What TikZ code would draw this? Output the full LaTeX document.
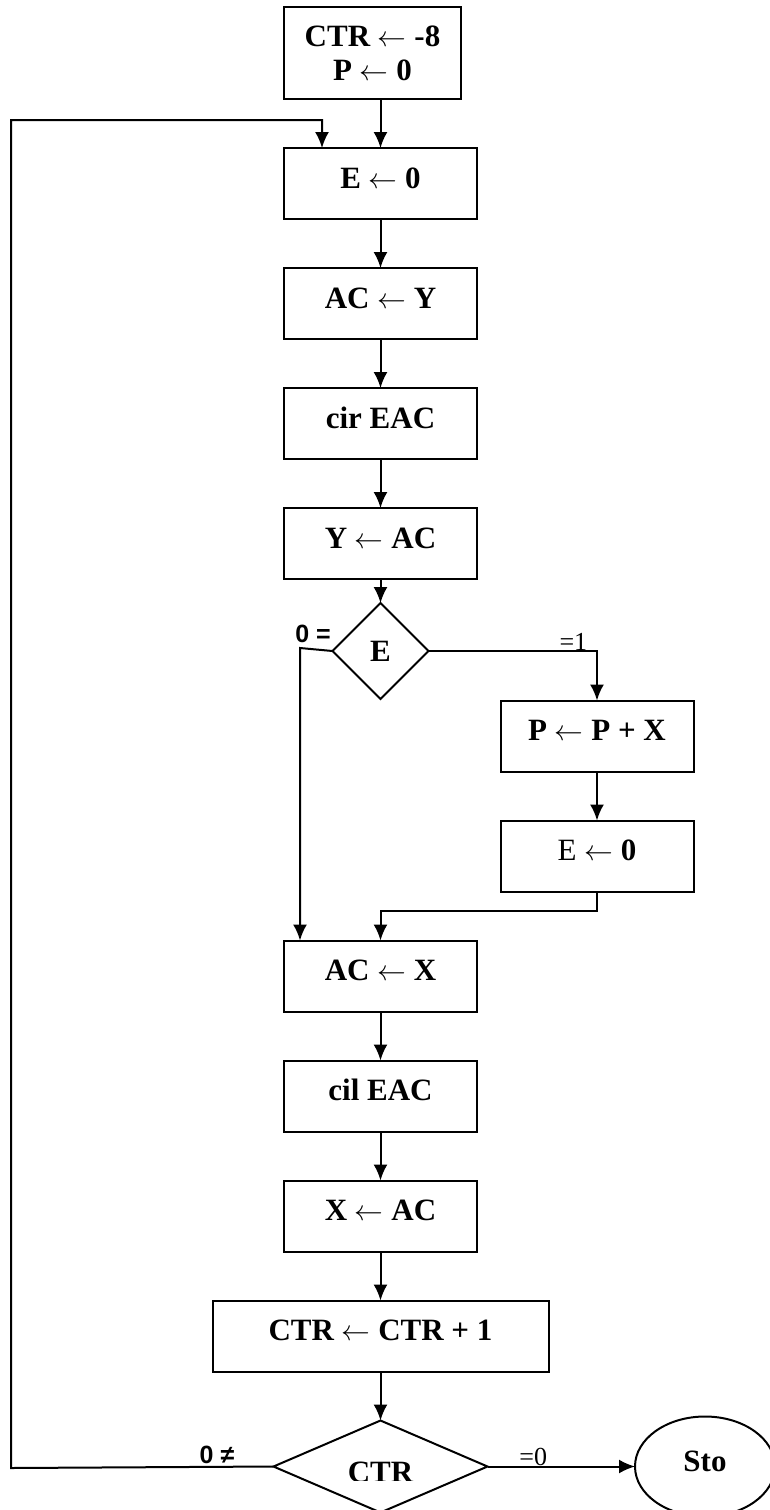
\documentclass[tikz,border=0pt]{standalone}
\usepackage{fontspec}
\setmainfont{Liberation Serif}
\newfontfamily\lsans{Liberation Sans}
\usetikzlibrary{positioning, arrows.meta, shapes.geometric}
\tikzset{
  % boxes of the flow chart
  box/.style={draw, rectangle, outer sep=0pt, minimum width=96.5pt, minimum height=35.5pt,
    text height=10.5pt, text depth=6pt, font=\bfseries\fontsize{15.5}{17}\selectfont},
  startbox/.style={draw, rectangle, outer sep=0pt, align=center, minimum width=88.5pt,
    minimum height=46pt, font=\bfseries\fontsize{15.5}{17}\selectfont},
  decision/.style={draw, diamond, aspect=1, inner sep=0pt, outer sep=0pt,
    font=\bfseries\fontsize{15.5}{17}\selectfont},
  endnode/.style={draw, ellipse, inner sep=0pt, outer sep=0pt, minimum width=70pt,
    minimum height=50pt, text height=10.5pt, text depth=6pt,
    font=\bfseries\fontsize{15.5}{17}\selectfont},
  lbl/.style={inner sep=0pt, font=\lsans\bfseries\fontsize{12.5}{14}\selectfont},
  cond/.style={inner sep=0pt, font=\fontsize{13}{14}\selectfont},
  >={Latex[length=8pt,width=7pt]}, node distance=24.5pt
}
\begin{document}
\begin{tikzpicture}[x=0.5pt, y=-0.5pt, line width=1pt]
  \useasboundingbox (0,0) rectangle (770,1510);

  \node[startbox] (init) at (372.5,53) {CTR $\leftarrow$ -8\\P $\leftarrow$ 0};
  \node[box] (e0) at (380.5,183.5) {E $\leftarrow$ 0};
  \node[box, below = of e0] (acy) {AC $\leftarrow$ Y};
  \node[box, below = of acy] (cir) {cir EAC};
  \node[box, below = of cir] (yac) {Y $\leftarrow$ AC};
  \node[decision, below = 12pt of yac, minimum size=48pt] (etest) {E};
  \node[box] (ppx) at (597,736) {P $\leftarrow$ P + X};
  \node[box, below = of ppx] (ee0) {{\mdseries E} $\leftarrow$ 0};
  \node[box] (acx) at (380.5,976) {AC $\leftarrow$ X};
  \node[box, below = of acx] (cil) {cil EAC};
  \node[box, below = of cil] (xac) {X $\leftarrow$ AC};
  \node[box, below = of xac, minimum width=168pt] (inc) {CTR $\leftarrow$ CTR + 1};
  \node[decision, below = of inc, minimum width=107pt, minimum height=46pt] (ctrtest) {};
  \node[endnode, right = 73.75pt of ctrtest] (sto) {Sto};

  % text of the lower test, cut at the bottom
  \begin{scope}
    \clip (0,0) rectangle (770,1480);
    \node[font=\bfseries\fontsize{15.5}{17}\selectfont, yshift=-3pt] (ctrtxt) at (ctrtest.center) {CTR};
  \end{scope}

  \draw[->] (init.south -| e0.north) -- (e0.north);
  \draw[->] (e0) -- (acy);
  \draw[->] (acy) -- (cir);
  \draw[->] (cir) -- (yac);
  \draw[->] (yac) -- (etest);

  % E = 1
  \draw[->] (etest.east) -| node[cond, pos=0.43, anchor=south] (one) {=1} (ppx.north);
  \draw[->] (ppx) -- (ee0);
  \draw[->] (ee0.south) -- ++(0,19) -| (acx.north);

  % E = 0
  \coordinate (lbend) at (300,648);
  \draw[->] (etest.west) -- (lbend) -- (lbend |- acx.north);
  \node[lbl] (zeq) at (313,634) {0 =};

  \draw[->] (acx) -- (cil);
  \draw[->] (cil) -- (xac);
  \draw[->] (xac) -- (inc);
  \draw[->] (inc) -- (ctrtest);

  \draw[->] (ctrtest) -- node[cond, pos=0.31, anchor=south] (zero) {=0} (sto);

  % loop back
  \coordinate (lbot) at (11,1468);
  \coordinate (ltop) at (11,120);
  \draw[->] (ctrtest.west) -- (lbot) -- (ltop) -| ([xshift=-29.25pt]e0.north);
  \node[lbl] (zne) at (217,1455) {0 ≠};
\end{tikzpicture}
\end{document}
